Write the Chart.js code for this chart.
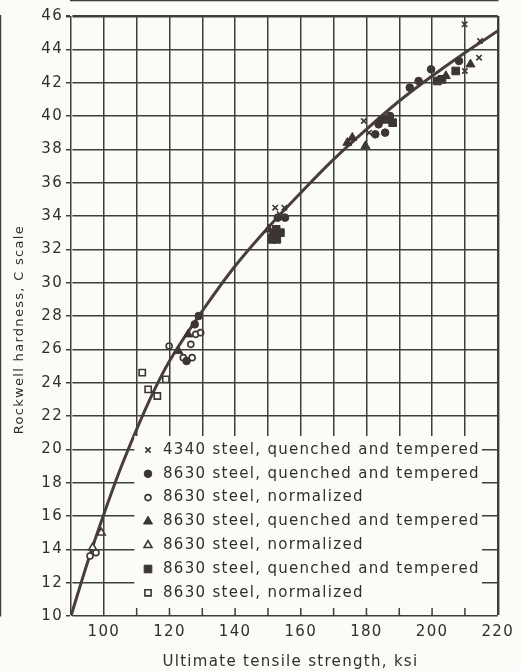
<!DOCTYPE html>
<html>
<head>
<meta charset="utf-8">
<script src="https://cdn.jsdelivr.net/npm/chart.js@4.4.1/dist/chart.umd.min.js"></script>
<style>
html,body{margin:0;padding:0;background:#fbfbf7;}
#wrap{width:521px;height:671px;position:relative;}
</style>
</head>
<body>
<div id="wrap"><canvas id="c"></canvas></div>
<script>
// ---- data (ksi, Rockwell C) ----
const curveKsi = [90, 95, 100, 105, 110, 115, 120, 130, 140, 150, 160, 170, 180, 190, 200, 210, 220];
const curveHrc = [10, 13.2, 16.1, 18.8, 21.2, 23.4, 25.3, 28.3, 31.0, 33.3, 35.4, 37.4, 39.2, 40.9, 42.4, 43.8, 45.1];

const s4340QT = [[152.2,34.5],[155.0,34.5],[153.6,34.1],[179.2,39.7],[180.8,39.0],[209.9,45.5],[214.6,44.5],[214.3,43.5],[210.0,42.7]];
const s8630QTcircle = [[125.2,25.3],[127.7,27.5],[128.9,28.0],[153.0,33.9],[155.2,33.9],[183.7,39.5],[184.7,39.8],[187.2,40.0],[182.7,38.9],[185.7,39.0],[193.2,41.7],[195.9,42.1],[199.7,42.8],[202.5,42.2],[208.2,43.3]];
const s8630Ncircle = [[95.8,13.6],[97.6,13.8],[119.9,26.2],[124.2,25.5],[126.5,26.3],[126.9,25.5],[128.0,26.9],[129.5,27.0]];
const s8630QTtri = [[122.7,25.9],[125.7,26.9],[150.2,33.2],[151.5,33.0],[174.2,38.4],[175.7,38.7],[179.7,38.2],[204.2,42.4],[211.7,43.1]];
const s8630Ntri = [[96.6,14.1],[99.2,15.0]];
const s8630QTsq = [[151.2,32.6],[152.7,32.6],[152.5,33.2],[153.8,33.0],[186.0,39.8],[188.0,39.6],[201.6,42.1],[203.0,42.2],[207.2,42.7]];
const s8630Nsq = [[111.7,24.6],[113.5,23.6],[116.3,23.2],[118.9,24.2]];

const seriesLabels = [
  '4340 steel, quenched and tempered',
  '8630 steel, quenched and tempered',
  '8630 steel, normalized',
  '8630 steel, quenched and tempered',
  '8630 steel, normalized',
  '8630 steel, quenched and tempered',
  '8630 steel, normalized'
];
const xTitle = 'Ultimate tensile strength, ksi';
const yTitle = 'Rockwell hardness, C scale';

// ---- styles ----
const bg = '#fbfbf7';
const ink = '#3d3535';
const gridInk = '#3e3e3e';
const textInk = '#2f2f2f';
const FONT = '"DejaVu Sans", sans-serif';
const SPACING = '1.3px';
const GRID_W = 1.5;

Chart.defaults.font.family = FONT;
Chart.defaults.color = textInk;

const pts = arr => arr.map(p => ({x: p[0], y: p[1]}));
const curve = curveKsi.map((k, i) => ({x: k, y: curveHrc[i]}));

const markerDefs = [
  {data: s4340QT,       style: 'crossRot', r: 3.8, fill: ink, bw: 1.6},
  {data: s8630QTcircle, style: 'circle',   r: 3.8, fill: ink, bw: 1},
  {data: s8630Ncircle,  style: 'circle',   r: 3.0, fill: bg,  bw: 1.6},
  {data: s8630QTtri,    style: 'triangle', r: 5.2, fill: ink, bw: 1},
  {data: s8630Ntri,     style: 'triangle', r: 4.6, fill: bg,  bw: 1.6},
  {data: s8630QTsq,     style: 'rect',     r: 5.4, fill: ink, bw: 1},
  {data: s8630Nsq,      style: 'rect',     r: 4.4, fill: bg,  bw: 1.6}
];

const datasets = markerDefs.map((m, i) => ({
  label: seriesLabels[i],
  data: pts(m.data),
  pointStyle: m.style,
  pointRadius: m.r,
  pointHoverRadius: m.r,
  backgroundColor: m.fill,
  borderColor: ink,
  pointBorderWidth: m.bw,
  borderWidth: m.bw,
  showLine: false
}));
datasets.push({
  label: 'fit',
  data: curve,
  showLine: true,
  pointRadius: 0,
  borderColor: '#4a3d3d',
  borderWidth: 3,
  cubicInterpolationMode: 'monotone',
  fill: false
});

const canvasPrep = {
  id: 'canvasPrep',
  beforeUpdate(chart) { chart.ctx.letterSpacing = SPACING; },
  beforeLayout(chart) { chart.ctx.letterSpacing = SPACING; },
  beforeDraw(chart) {
    const c = chart.ctx;
    c.letterSpacing = SPACING;
    c.save();
    c.fillStyle = bg;
    c.fillRect(0, 0, chart.width, chart.height);
    c.restore();
  }
};

function drawMarker(ctx, m, x, y) {
  ctx.fillStyle = m.fill;
  ctx.strokeStyle = ink;
  ctx.lineWidth = m.bw;
  if (Chart.helpers && Chart.helpers.drawPoint) {
    Chart.helpers.drawPoint(ctx, {pointStyle: m.style, radius: m.r, borderWidth: m.bw, rotation: 0}, x, y);
  }
}

const insetLegend = {
  id: 'insetLegend',
  afterDraw(chart) {
    const {ctx, chartArea: a, scales: {x, y}} = chart;
    const L = x.getPixelForValue(109.3), T = y.getPixelForValue(20.8);
    const R = x.getPixelForValue(215.2), B = a.bottom - 1.5;
    ctx.save();
    ctx.setLineDash([]);
    ctx.fillStyle = bg;
    ctx.fillRect(L, T, R - L, B - T);
    ctx.strokeStyle = gridInk;
    ctx.lineWidth = GRID_W;
    for (let v = 110; v <= 210; v += 10) {
      const px = x.getPixelForValue(v);
      ctx.beginPath();
      ctx.moveTo(px, a.bottom);
      ctx.lineTo(px, a.bottom - 8);
      ctx.stroke();
    }
    const mx = a.left + 77, tx = a.left + 92;
    const lineH = 23.8;
    ctx.letterSpacing = SPACING;
    ctx.font = '15px ' + FONT;
    ctx.textBaseline = 'middle';
    markerDefs.forEach((m, i) => {
      const cy = T + 14 + i * lineH;
      drawMarker(ctx, m, mx, cy);
      ctx.fillStyle = textInk;
      ctx.fillText(seriesLabels[i], tx, cy);
    });
    ctx.restore();
  }
};

new Chart(document.getElementById('c'), {
  type: 'scatter',
  data: {datasets},
  options: {
    responsive: true,
    maintainAspectRatio: false,
    animation: false,
    events: [],
    layout: {padding: {top: 16, right: 17, left: 0, bottom: 0}},
    plugins: {legend: {display: false}, tooltip: {enabled: false}},
    scales: {
      x: {
        type: 'linear', min: 90, max: 220,
        afterFit: s => { s.height = 55; },
        ticks: {stepSize: 10, autoSkip: false, maxRotation: 0, padding: 7,
          font: {size: 15}, color: textInk,
          callback: v => (v % 20 === 0 ? String(v) : '')},
        grid: {display: true, z: 1, drawOnChartArea: true, color: gridInk, drawTicks: false,
          lineWidth: c => (c.tick && c.tick.value === 220 ? 2.4 : GRID_W)},
        border: {display: true, color: gridInk, width: 2.4},
        title: {display: true, text: '  ' + xTitle, font: {size: 15}, color: textInk, padding: {top: 0, bottom: 0}}
      },
      y: {
        type: 'linear', min: 10, max: 46,
        afterFit: s => { s.width = 71; },
        ticks: {stepSize: 2, autoSkip: false, padding: 3, font: {size: 15}, color: textInk},
        grid: {display: true, z: 1, drawOnChartArea: true, color: gridInk, tickLength: 5,
          lineWidth: c => (c.tick && c.tick.value === 46 ? 2.4 : GRID_W)},
        border: {display: true, color: gridInk, width: 2.4},
        title: {display: true, text: yTitle + '     ', font: {size: 13}, color: textInk, padding: {top: 12, bottom: 0}}
      }
    }
  },
  plugins: [canvasPrep, insetLegend]
});
</script>
</body>
</html>
